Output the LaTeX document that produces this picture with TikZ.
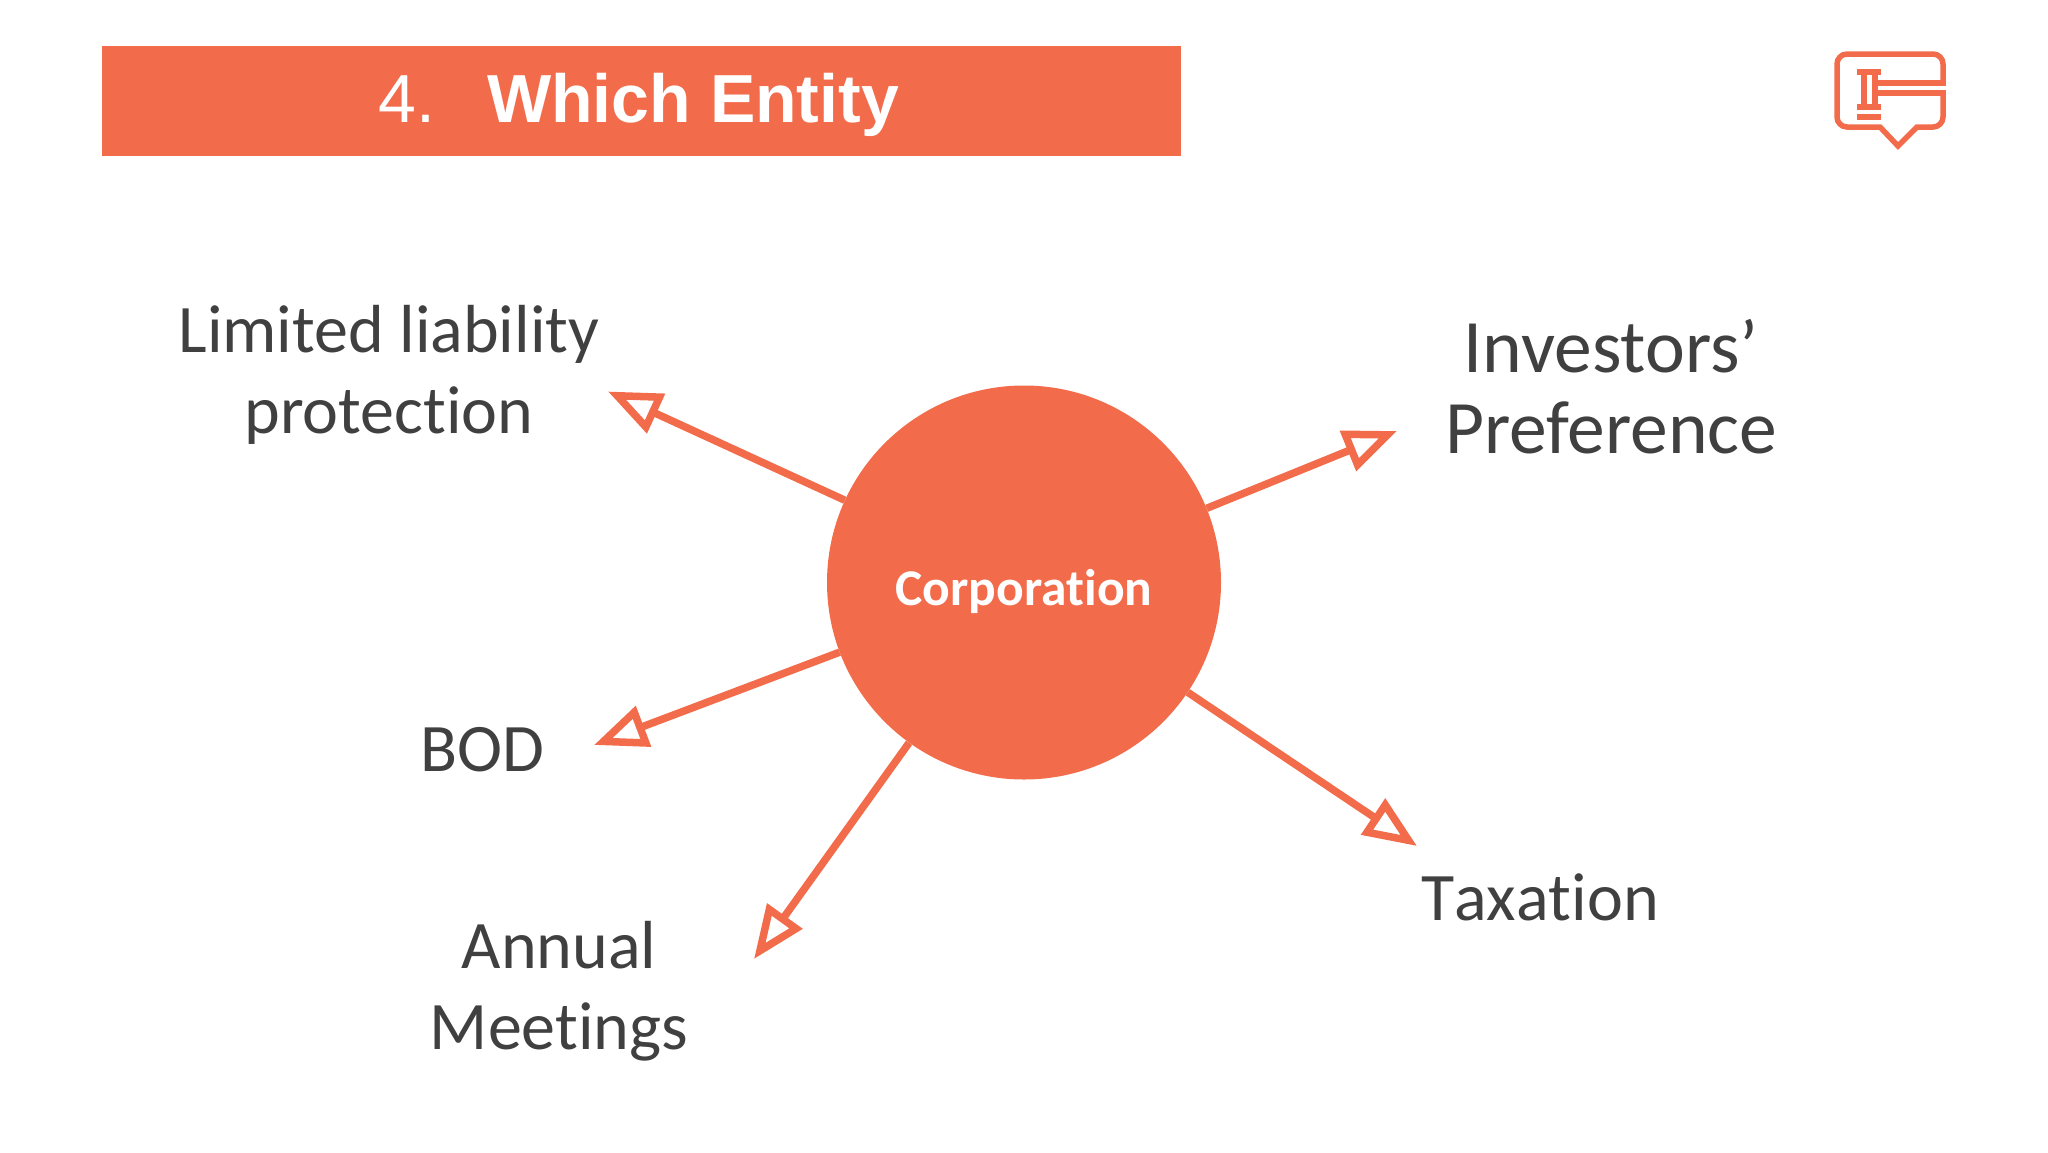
\documentclass[tikz,border=0pt]{standalone}
\usepackage{fontspec}
\setmainfont{Carlito}[Ligatures=NoCommon]
\newfontfamily\titlefont{Liberation Sans}
\usetikzlibrary{arrows.meta}
\definecolor{corporange}{HTML}{F26C4B}
\definecolor{labelgray}{HTML}{404040}

\begin{document}
\begin{tikzpicture}[x=1pt,y=-1pt]
	\tikzstyle{label} = [align=center, text=labelgray, inner sep=0pt, font=\fontsize{68}{81}\selectfont]
	\tikzstyle{biglabel} = [label, font=\fontsize{75.5}{81}\selectfont]
	\tikzstyle{spoke} = [draw=corporange, line width=7.5pt, -{Triangle[open, fill=white, length=53pt, width=42pt]}]
	\tikzstyle{icon} = [draw=corporange, line width=5.5pt]
	\useasboundingbox (0,0) rectangle (2048,1152);
	\fill[white] (0,0) rectangle (2048,1152);
	\coordinate (bannerNW) at (102,46);
	\coordinate (bannerSE) at (1181,156);
	\fill[corporange] (bannerNW) rectangle (bannerSE);
	\node[text=white, inner sep=0pt, anchor=base west, font=\titlefont\fontsize{68}{80}\selectfont] (number) at (378,122) {4.};
	\node[text=white, inner sep=0pt, anchor=base west, font=\titlefont\bfseries\fontsize{68}{80}\selectfont] (title) at (487,122) {Which Entity};
	\node[circle, fill=corporange, minimum size=394pt, inner sep=0pt] (corp) at (1024,582.5) {};
	\node[text=white, inner sep=0pt, font=\bfseries\fontsize{51.5}{54}\selectfont] (corplabel) at (1024,591) {Corporation};
	\node[label] (liability) at (389,375) {Limited liability\\protection};
	\node[biglabel] (investors) at (1611,387) {Investors'\\Preference};
	\node[label, anchor=base] (bod) at (482,771) {BOD};
	\node[label] (meetings) at (559,991) {Annual\\Meetings};
	\node[label, anchor=base] (taxation) at (1540,920) {\addfontfeature{Kerning=Off}Taxation};
	\coordinate (tipliability) at (608,391.5);
	\coordinate (tipinvestors) at (1397,431);
	\coordinate (tipbod) at (594,745);
	\coordinate (tipmeetings) at (754,959);
	\coordinate (tiptaxation) at (1417,846);
	\draw[spoke] (corp) -- (tipliability);
	\draw[spoke] (corp) -- (tipinvestors);
	\draw[spoke] (corp) -- (tipbod);
	\draw[spoke] (corp) -- (tipmeetings);
	\draw[spoke] (corp) -- (tiptaxation);
	% gavel icon
	\draw[icon, rounded corners=10pt] (1943,83) -- (1943,54) -- (1837,54) -- (1837,127) -- (1860,127) [sharp corners] -- (1880,127) -- (1898,146) -- (1917,127) -- (1925,127) [rounded corners=10pt] -- (1943,127) -- (1943,93);
	\draw[icon] (1878,83) -- (1946,83);
	\draw[icon] (1878,93) -- (1946,93);
	\draw[icon] (1857,72) -- (1881,72);
	\draw[icon] (1857,107) -- (1881,107);
	\draw[icon] (1857,117) -- (1881,117);
	\draw[icon] (1864,72) -- (1864,107);
	\draw[icon] (1875,72) -- (1875,107);
\end{tikzpicture}
\end{document}
